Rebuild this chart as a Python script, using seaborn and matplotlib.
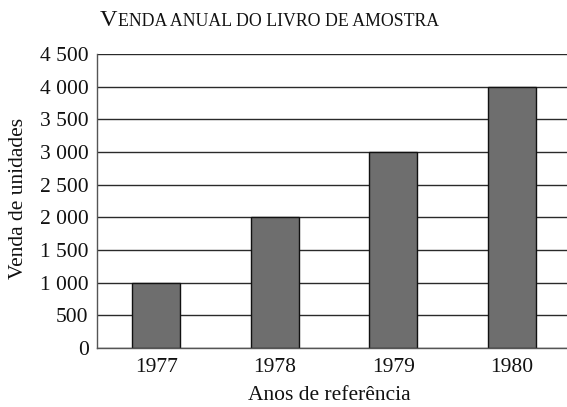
import matplotlib
matplotlib.use("Agg")
import matplotlib.pyplot as plt
import seaborn as sns
import pandas as pd
from matplotlib.ticker import FixedLocator, FuncFormatter

# Data
anos = ["1977", "1978", "1979", "1980"]
vendas = [1000, 2000, 3000, 4000]
y_ticks = [0, 500, 1000, 1500, 2000, 2500, 3000, 3500, 4000, 4500]

df = pd.DataFrame({"Ano": anos, "Vendas": vendas})

sns.set_style("white")
plt.rcParams["font.family"] = ["Liberation Serif", "DejaVu Serif"]

fig = plt.figure(figsize=(5.67, 4.07), dpi=100)
W, H = 567, 407
ax = fig.add_axes([97 / W, 59 / H, 474 / W, 294 / H])

ax.set_axisbelow(True)
ax.yaxis.grid(True, color="#2a2a2a", linewidth=1.0)

sns.barplot(data=df, x="Ano", y="Vendas", color="#6e6e6e", edgecolor="#111111",
            linewidth=1.0, width=0.405, saturation=1, ax=ax)

ax.set_xlim(-0.5, len(anos) - 0.5)
ax.set_ylim(0, 4500)
ax.set_yticks(y_ticks)
ax.yaxis.set_major_formatter(FuncFormatter(lambda v, p: f"{int(v):,}".replace(",", " ")))

# ticks between the categories
ax.xaxis.set_minor_locator(FixedLocator([i - 0.5 for i in range(len(anos) + 1)]))
ax.tick_params(axis="x", which="major", length=0, labelsize=15.5, pad=7, colors="#111111")
ax.tick_params(axis="x", which="minor", length=5, width=1, color="#555555", direction="out")
ax.tick_params(axis="y", which="major", length=4, width=1, color="#555555", direction="out",
               labelsize=15.5, pad=2, labelcolor="#111111")

for s in ["top", "right"]:
    ax.spines[s].set_visible(False)
for s in ["left", "bottom"]:
    ax.spines[s].set_color("#555555")
    ax.spines[s].set_linewidth(1.0)

ax.set_xlabel("Anos de referência", fontsize=15.5, color="#111111")
ax.set_ylabel("Venda de unidades", fontsize=15.5, color="#111111")
ax.xaxis.set_label_coords(0.49, -0.128)
ax.yaxis.set_label_coords(-0.145, 0.51)

# small-caps style title
r = fig.canvas.get_renderer()
ty = 1 - 26 / H
t1 = fig.text(100 / W, ty, "V", fontsize=17.5, va="baseline", ha="left", color="#111111")
bb = t1.get_window_extent(r)
fig.text(bb.x1 / fig.bbox.width, ty, "ENDA ANUAL DO LIVRO DE AMOSTRA", fontsize=12.8,
         va="baseline", ha="left", color="#111111")

fig.savefig("out.png", dpi=100)
